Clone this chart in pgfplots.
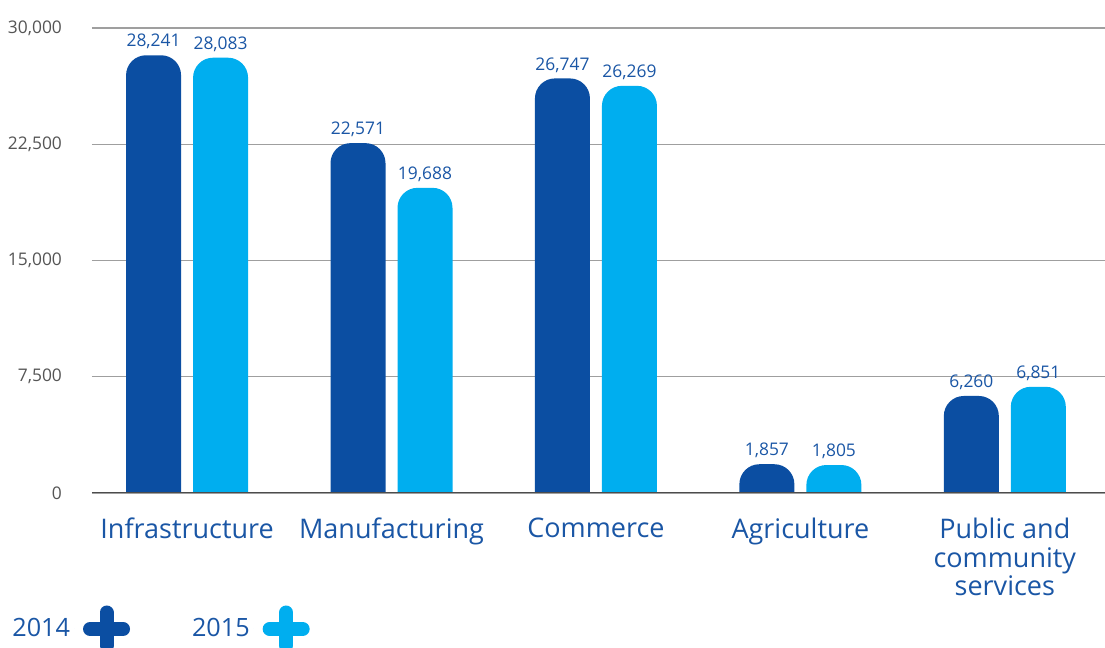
\documentclass[border=0pt]{standalone}
\usepackage{fontspec}
\setmainfont{Open Sans}
\usepackage{pgfplots}
\pgfplotsset{compat=1.18}

\definecolor{darkbar}{HTML}{0B4EA2}
\definecolor{lightbar}{HTML}{00AEEF}
\definecolor{labelblue}{HTML}{1A56A5}
\definecolor{tickgray}{HTML}{555555}

% bar with rounded top; the bottom runs far down and is clipped at y=0
\newcommand\roundbar[1]{%
  \pgfpathmoveto{\pgfpoint{#1-13.75pt}{-400pt}}%
  \pgfpathlineto{\pgfpoint{#1-13.75pt}{-10pt}}%
  \pgfpatharc{180}{90}{10pt}%
  \pgfpathlineto{\pgfpoint{#1+3.75pt}{0pt}}%
  \pgfpatharc{90}{0}{10pt}%
  \pgfpathlineto{\pgfpoint{#1+13.75pt}{-400pt}}%
  \pgfpathclose
  \pgfusepathqfill}
\pgfdeclareplotmark{rbarL}{\roundbar{-16.75pt}}
\pgfdeclareplotmark{rbarR}{\roundbar{16.75pt}}

\begin{document}
\begin{tikzpicture}
\useasboundingbox (-46pt,-77.5pt) rectangle (506.5pt,246.5pt);
\begin{axis}[
    scale only axis,
    width=506.5pt, height=232.5pt,
    xmin=-0.465, xmax=4.49,
    ymin=0, ymax=30000,
    ytick={0,7500,15000,22500,30000},
    scaled y ticks=false,
    xtick=data,
    xticklabels={Infrastructure, Manufacturing, Commerce, Agriculture, {Public and\\community\\services}},
    major tick length=0pt,
    axis line style={draw=none},
    ymajorgrids,
    grid style={gray!75, line width=0.7pt},
    /pgf/number format/.cd, fixed, 1000 sep={,}, assume math mode=true,
    /pgfplots/.cd,
    yticklabel style={font=\fontsize{8.7}{10}\selectfont, text=tickgray, xshift=-11.5pt},
    xticklabel style={font=\fontsize{13.5}{14.3}\selectfont, text=labelblue, align=center, anchor=north, yshift=-9pt},
    clip marker paths=true,
    nodes near coords,
    every node near coord/.append style={font=\fontsize{8.7}{10}\selectfont, text=labelblue, anchor=south, yshift=-0.5pt},
    legend plot pos=right,
    legend columns=2,
    legend style={draw=none, fill=none, at={(axis description cs:0,0)}, anchor=west,
        xshift=-45pt, yshift=-68pt, font=\fontsize{12.6}{14}\selectfont, text=labelblue,
        /tikz/every even column/.append style={column sep=29pt}},
]
\addplot[only marks, mark=rbarL, fill=darkbar, draw=none,
    every node near coord/.append style={xshift=-16.75pt},
    legend image code/.code={\path (-4pt,0pt) -- (-4pt,0pt);
        \draw[darkbar, line width=7pt, line cap=round] (4pt,0pt) -- (20.5pt,0pt) (12.25pt,-8.25pt) -- (12.25pt,8.25pt);}]
coordinates {(0,28241) (1,22571) (2,26747) (3,1857) (4,6260)};
\addlegendentry{2014}
\addplot[only marks, mark=rbarR, fill=lightbar, draw=none,
    every node near coord/.append style={xshift=16.75pt},
    legend image code/.code={\path (-4pt,0pt) -- (-4pt,0pt);
        \draw[lightbar, line width=7pt, line cap=round] (4pt,0pt) -- (20.5pt,0pt) (12.25pt,-8.25pt) -- (12.25pt,8.25pt);}]
coordinates {(0,28083) (1,19688) (2,26269) (3,1805) (4,6851)};
\addlegendentry{2015}
\draw[gray!60!black, line width=0.8pt] (rel axis cs:0,0) -- (rel axis cs:1,0);
\end{axis}
\end{tikzpicture}
\end{document}
